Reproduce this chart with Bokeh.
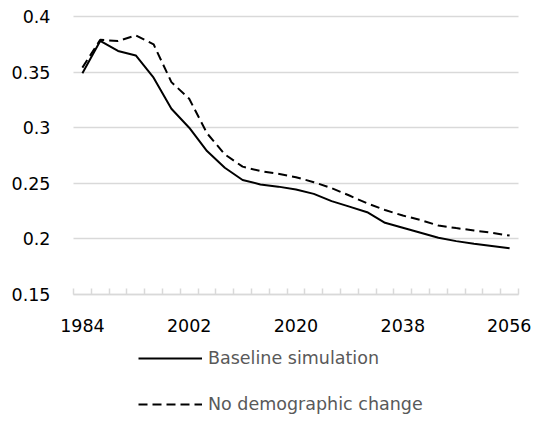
from bokeh.plotting import figure
from bokeh.models import Range1d, FixedTicker, Legend, LegendItem
from bokeh.embed import file_html
from bokeh.resources import INLINE

years = [1984, 1987, 1990, 1993, 1996, 1999, 2002, 2005, 2008, 2011, 2014, 2017, 2020,
         2023, 2026, 2029, 2032, 2035, 2038, 2041, 2044, 2047, 2050, 2053, 2056]
baseline = [0.349, 0.378, 0.369, 0.365, 0.345, 0.317, 0.300, 0.279, 0.264, 0.253, 0.249, 0.247, 0.2445,
            0.2405, 0.234, 0.229, 0.224, 0.2145, 0.210, 0.2055, 0.201, 0.198, 0.1957, 0.1937, 0.1915]
no_demo = [0.354, 0.379, 0.378, 0.383, 0.375, 0.341, 0.326, 0.295, 0.276, 0.265, 0.261, 0.2585, 0.2555,
           0.251, 0.2456, 0.239, 0.232, 0.226, 0.221, 0.217, 0.212, 0.2097, 0.2076, 0.2055, 0.203]
x_tick_years = [1984, 2002, 2020, 2038, 2056]
y_ticks = [0.15, 0.2, 0.25, 0.3, 0.35, 0.4]
y_labels = ["0.15", "0.2", "0.25", "0.3", "0.35", "0.4"]
series_names = ["Baseline simulation", "No demographic change"]

FONT = "DejaVu Sans"
DASH = "9 5"

# Layout in pixels: the plot area (445 x 278 px) sits inside one frame that
# covers the whole figure, so that labels and legend around it are not clipped.
W, H = 531, 415
TOP, LEFT, RIGHT = 16, 73, 13
PLOT_W, PLOT_H = W - LEFT - RIGHT, 278

x0, x1 = years[0] - 1.5, years[-1] + 1.5
x_per_px = (x1 - x0) / PLOT_W
y0, y1 = y_ticks[0], y_ticks[-1]
y_per_px = (y1 - y0) / PLOT_H

p = figure(width=W, height=H, output_backend="svg", toolbar_location=None,
           x_range=Range1d(x0 - LEFT * x_per_px, x1 + RIGHT * x_per_px),
           y_range=Range1d(y0 - (H - TOP - PLOT_H) * y_per_px, y1 + TOP * y_per_px),
           min_border_left=0, min_border_right=0, min_border_top=0, min_border_bottom=0)
p.outline_line_color = None
p.background_fill_color = "white"
p.border_fill_color = "white"

r1 = p.line(years, baseline, line_color="black", line_width=2)
r2 = p.line(years, no_demo, line_color="black", line_width=2, line_dash=DASH)

# x axis (category axis), at the bottom of the value range
minor = [y - 1.5 for y in years] + [years[-1] + 1.5]
p.xaxis.fixed_location = y0
p.xaxis.bounds = (x0, x1)
p.xaxis.ticker = FixedTicker(ticks=x_tick_years, minor_ticks=minor)
p.xaxis.axis_line_color = "#d9d9d9"
p.xaxis.axis_line_width = 1.5
p.xaxis.major_tick_line_color = None
p.xaxis.major_tick_in = 0
p.xaxis.major_tick_out = 0
p.xaxis.minor_tick_line_color = "#d9d9d9"
p.xaxis.minor_tick_line_width = 1.5
p.xaxis.minor_tick_in = 6
p.xaxis.minor_tick_out = 0
p.xaxis.major_label_text_font = FONT
p.xaxis.major_label_text_font_size = "17.5px"
p.xaxis.major_label_text_color = "black"
p.xaxis.major_label_standoff = 24

# y axis, at the left edge of the plot area
p.yaxis.fixed_location = x0
p.yaxis.bounds = (y0, y1)
p.yaxis.ticker = FixedTicker(ticks=y_ticks)
p.yaxis.major_label_overrides = dict(zip(y_ticks, y_labels))
p.yaxis.axis_line_color = None
p.yaxis.major_tick_line_color = None
p.yaxis.minor_tick_line_color = None
p.yaxis.major_tick_in = 0
p.yaxis.major_tick_out = 0
p.yaxis.major_label_text_font = FONT
p.yaxis.major_label_text_font_size = "17.5px"
p.yaxis.major_label_text_color = "black"
p.yaxis.major_label_standoff = 23

p.xgrid.grid_line_color = None
p.ygrid.ticker = FixedTicker(ticks=y_ticks)
p.ygrid.cross_bounds = (x0, x1)
p.ygrid.grid_line_color = "#d9d9d9"
p.ygrid.grid_line_width = 1.5

legend = Legend(items=[LegendItem(label=series_names[0], renderers=[r1]),
                       LegendItem(label=series_names[1], renderers=[r2])],
                location=(138, 1), orientation="vertical",
                glyph_width=64, glyph_height=20, label_height=20, label_standoff=6,
                spacing=26, padding=0, margin=0,
                border_line_color=None, background_fill_alpha=0,
                label_text_font=FONT, label_text_font_size="17.5px",
                label_text_color="#595959")
p.add_layout(legend, "center")

open("out.html", "w").write(file_html(p, INLINE))
